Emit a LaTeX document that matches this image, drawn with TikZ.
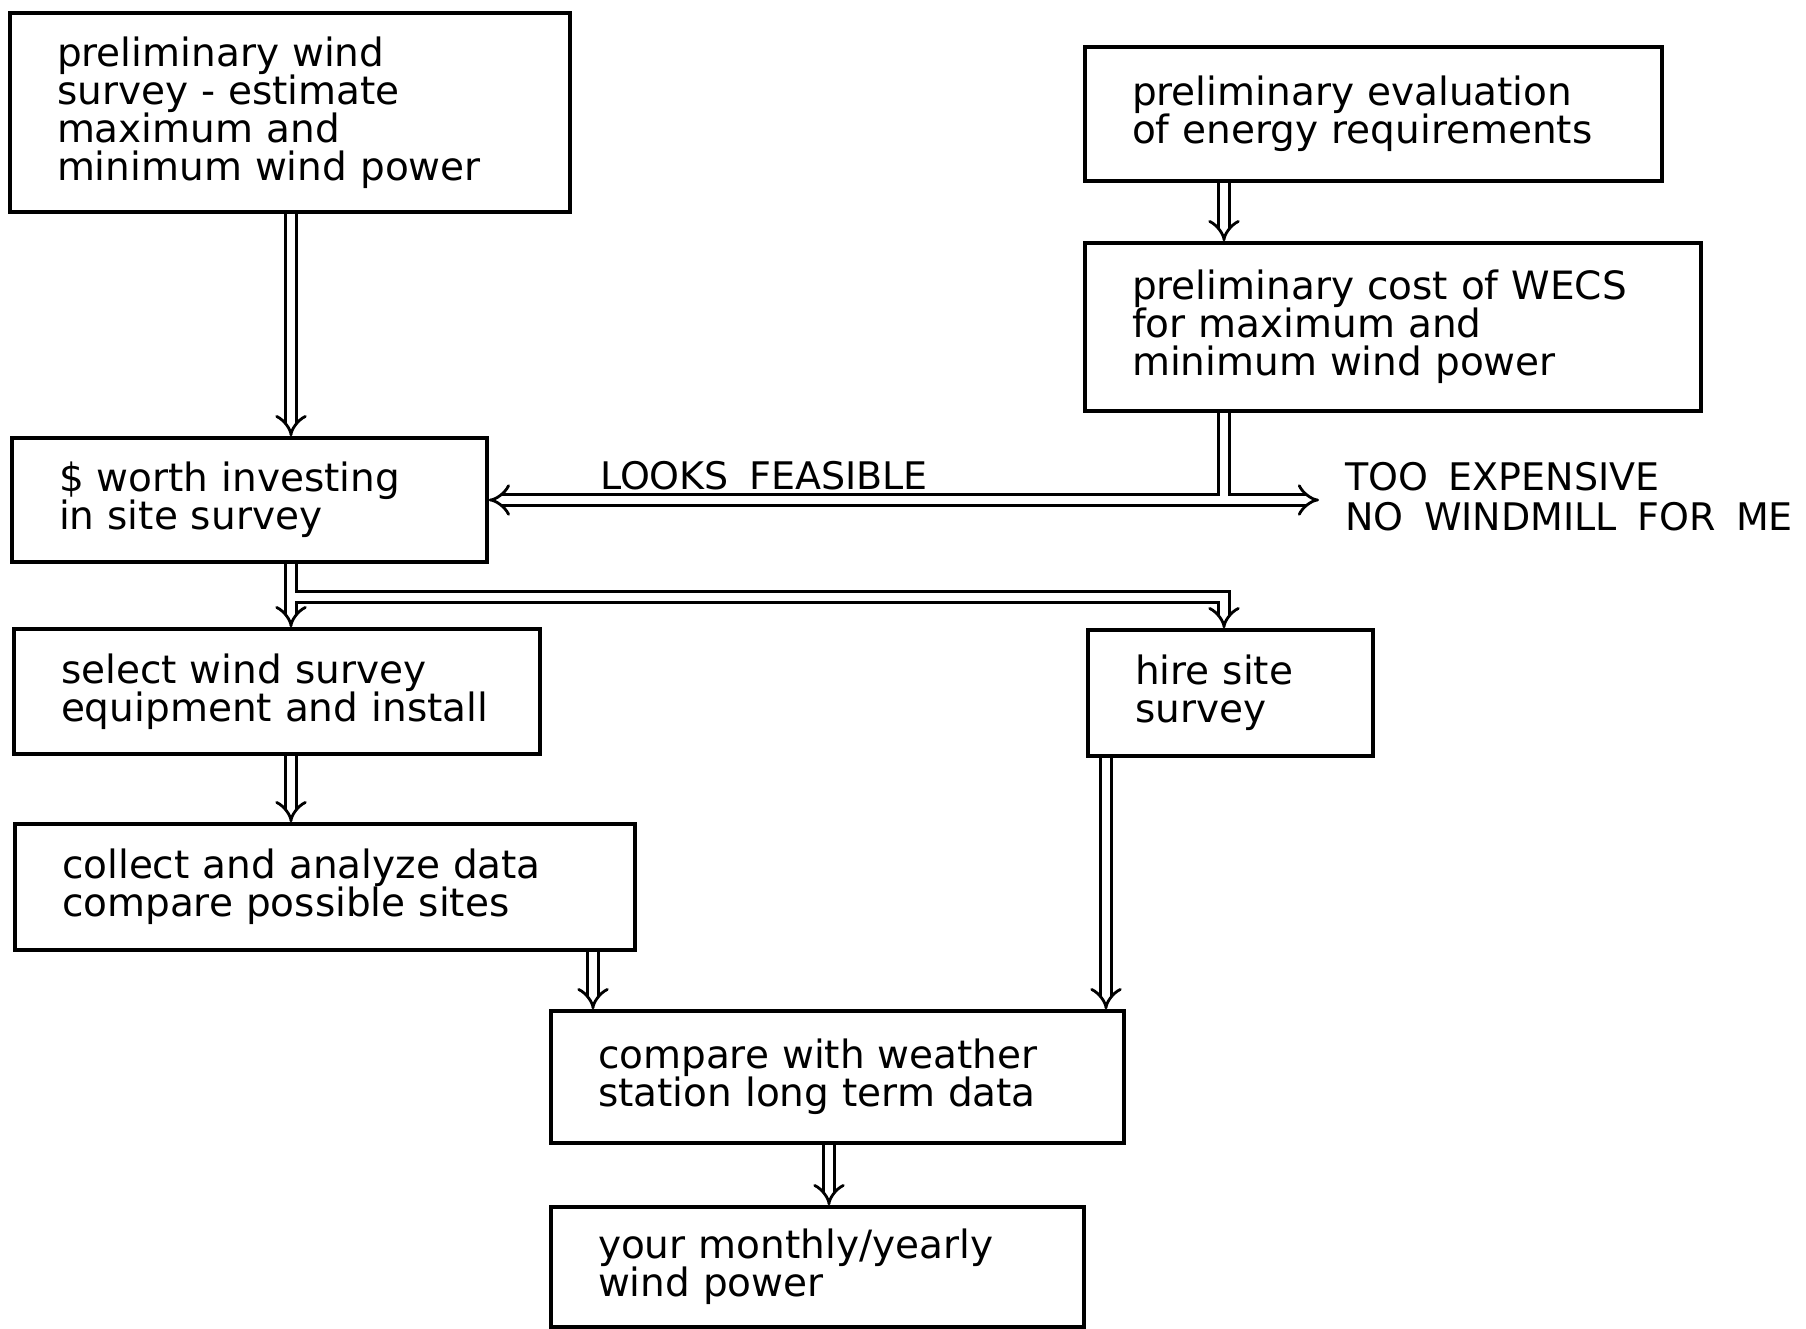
\documentclass[tikz,border=0pt]{standalone}
\usepackage{fontspec}
\setmainfont{DejaVu Sans}[WordSpace=1.7]
\usetikzlibrary{arrows.meta}
\newcommand{\boxfont}{\fontsize{39}{38}\selectfont}
\newcommand{\capfont}{\fontsize{38}{40}\selectfont}

\begin{document}
\begin{tikzpicture}[
    x=1pt, y=-1pt,
    blk/.style={draw, line width=3.6pt, inner xsep=47pt, inner ysep=0pt,
      align=left, font=\boxfont},
    dbl/.style={double, double distance=8pt, line width=2.8pt, -{Implies}},
    lbl/.style={font=\capfont, align=left, anchor=west, inner sep=0pt},
  ]
    \useasboundingbox (0,0) rectangle (1806,1329);

    % boxes
    \node[blk, text width=466pt, minimum height=199pt] (wind) at (290,112.5)
      {preliminary wind\\survey - estimate\\maximum and\\minimum wind power};
    \node[blk, text width=483pt, minimum height=134pt] (energy) at (1373.5,114)
      {preliminary evaluation\\of energy requirements};
    \node[blk, text width=522pt, minimum height=168pt] (cost) at (1393,327)
      {preliminary cost of WECS\\for maximum and\\minimum wind power};
    \node[blk, text width=381pt, minimum height=124pt] (worth) at (249.5,500)
      {\$ worth investing\\in site survey};
    \node[blk, text width=432pt, minimum height=125pt] (equip) at (277,691.5)
      {select wind survey\\equipment and install};
    \node[blk, text width=191pt, minimum height=126pt] (hire) at (1230.5,693)
      {hire site\\survey};
    \node[blk, text width=526pt, minimum height=126pt] (collect) at (325,887)
      {collect and analyze data\\compare possible sites};
    \node[blk, text width=479pt, minimum height=132pt] (station) at (837.5,1077)
      {compare with weather\\station long term data};
    \node[blk, text width=439pt, minimum height=120pt] (yours) at (817.5,1267)
      {your monthly/yearly\\wind power};

    % labels
    \node[lbl] (feas) at (600,476) {LOOKS FEASIBLE};
    \node[lbl] (expn) at (1345,497) {TOO EXPENSIVE\\NO WINDMILL FOR ME};

    % columns of the arrows
    \coordinate (colL) at (291,0);
    \coordinate (colR) at (1224,0);
    \coordinate (colG) at (593,0);
    \coordinate (colF) at (1106,0);
    \coordinate (colH) at (829,0);
    \coordinate (tipR) at (1319,500);
    \coordinate (fork) at (291,597);

    % arrows
    \draw[dbl] (wind.south -| colL) -- (worth.north -| colL);
    \draw[dbl] (energy.south -| colR) -- (cost.north -| colR);
    \draw[dbl, {Implies}-{Implies}] (worth.east) -- (tipR);
    \draw[double, double distance=8pt, line width=2.8pt]
      (cost.south -| colR) -- ([yshift=4pt]tipR -| colR);
    \draw[dbl] (worth.south -| colL) -- (equip.north -| colL);
    \draw[dbl] ([xshift=4pt]fork) -| (hire.north -| colR);
    \draw[dbl] (equip.south -| colL) -- (collect.north -| colL);
    \draw[dbl] (collect.south -| colG) -- (station.north -| colG);
    \draw[dbl] (hire.south -| colF) -- (station.north -| colF);
    \draw[dbl] (station.south -| colH) -- (yours.north -| colH);
  \end{tikzpicture}
\end{document}
